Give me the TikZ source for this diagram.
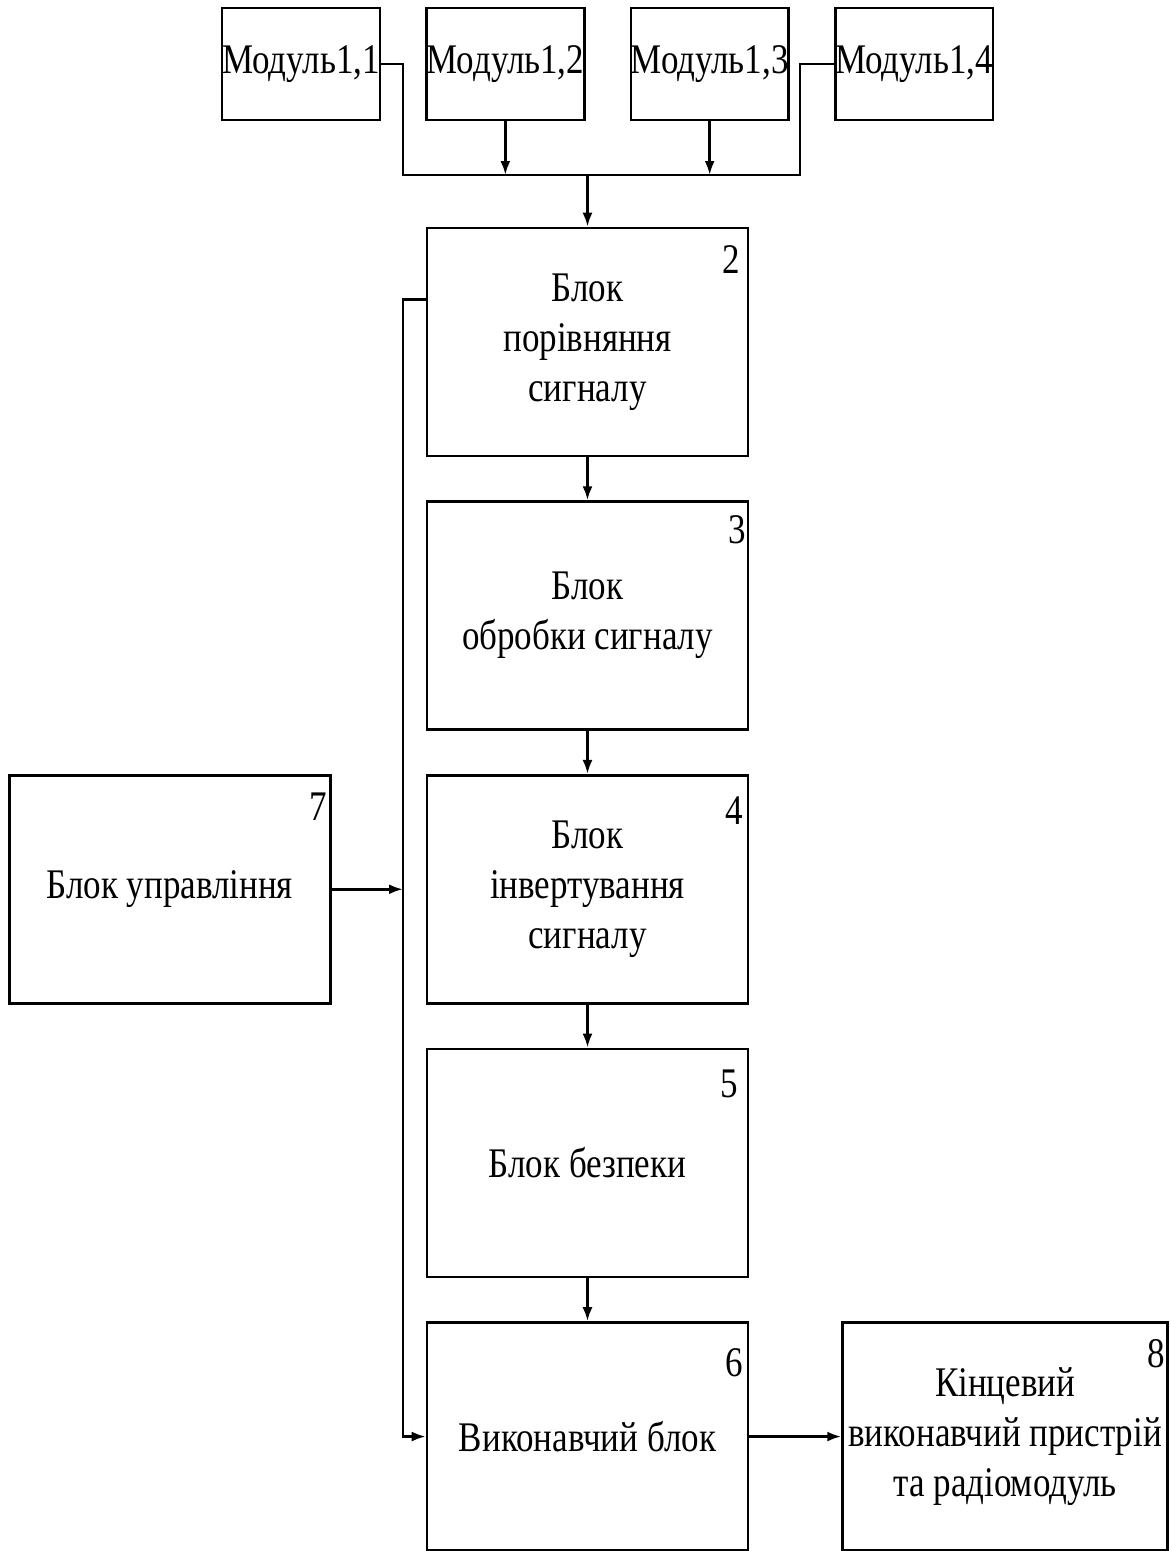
\documentclass[tikz,border=0pt]{standalone}
\usepackage{fontspec}
\setmainfont{Liberation Serif}[FakeStretch=0.83]
\usetikzlibrary{arrows.meta, positioning, calc}

\begin{document}
\begin{tikzpicture}[
    node distance=0.86cm,
    >={Latex[length=2.8mm,width=2mm]},
    line width=1.5pt,
    every node/.style={font=\fontsize{24}{28.5}\selectfont},
    block/.style={rectangle, draw=black, minimum width=6.42cm, minimum height=4.56cm, align=center, inner sep=2pt},
    modbox/.style={rectangle, draw=black, minimum width=3.14cm, minimum height=2.24cm, inner sep=0pt},
    num/.style={anchor=north east, inner sep=0pt}
  ]
    \useasboundingbox (0,0) rectangle (23.4,-31.02);

    % modules
    \node[modbox] (m11) at (6.02,-1.28) {Модуль1,1};
    \node[modbox, right=0.88cm of m11] (m12) {Модуль1,2};
    \node[modbox, right=0.88cm of m12] (m13) {Модуль1,3};
    \node[modbox, right=0.88cm of m13] (m14) {Модуль1,4};

    % main column
    \node[block] (box2) at (11.75,-6.84) {Блок\\порівняння\\сигналу};
    \node[block, below=of box2] (box3) {Блок\\обробки сигналу};
    \node[block, below=of box3] (box4) {Блок\\інвертування\\сигналу};
    \node[block, below=of box4] (box5) {Блок безпеки};
    \node[block, below=of box5] (box6) {Виконавчий блок};
    \node[block, left=1.88cm of box4] (box7) {Блок управління};
    \node[block, right=1.84cm of box6, minimum width=6.5cm] (box8) {Кінцевий\\виконавчий пристрій\\та радіомодуль};

    % numbers
    \node[num] (n2) at ($(box2.north east)+(-0.16,-0.36)$) {2};
    \node[num] (n3) at ($(box3.north east)+(-0.04,-0.28)$) {3};
    \node[num] (n4) at ($(box4.north east)+(-0.1,-0.42)$) {4};
    \node[num] (n5) at ($(box5.north east)+(-0.2,-0.42)$) {5};
    \node[num] (n6) at ($(box6.north east)+(-0.1,-0.52)$) {6};
    \node[num] (n7) at ($(box7.north east)+(-0.06,-0.36)$) {7};
    \node[num] (n8) at ($(box8.north east)+(-0.06,-0.34)$) {8};

    % bus from modules
    \coordinate (busL) at (8.06,-3.5);
    \coordinate (busR) at (16.0,-3.5);
    \draw (m11.east) -| (busL) -- (busR) |- (m14.west);
    \draw[->] (m12.south) -- (m12.south |- busL);
    \draw[->] (m13.south) -- (m13.south |- busL);
    \draw[->] (box2.north |- busL) -- (box2.north);

    % column arrows
    \draw[->] (box2) -- (box3);
    \draw[->] (box3) -- (box4);
    \draw[->] (box4) -- (box5);
    \draw[->] (box5) -- (box6);
    \draw[->] (box6) -- (box8);

    % control loop
    \coordinate (fb) at ($(box2.north west)!0.316!(box2.south west)$);
    \draw[->] (fb) -- (fb -| busL) |- (box6.west);
    \draw[->] (box7.east) -- (box7.east -| busL);
\end{tikzpicture}
\end{document}
